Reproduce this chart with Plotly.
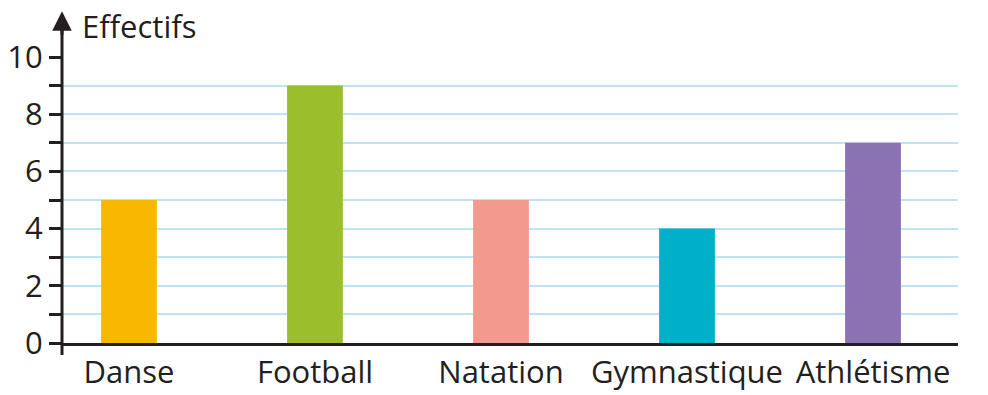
import plotly.graph_objects as go

categories = ["Danse", "Football", "Natation", "Gymnastique", "Athlétisme"]
values = [5, 9, 5, 4, 7]
colors = ["#F9B800", "#9BBE2C", "#F4998D", "#00AFC8", "#8A72B3"]
y_ticks = [0, 2, 4, 6, 8, 10]
y_title = "Effectifs"

FONT = "Open Sans"
INK = "#231F20"
FS = 31

fig = go.Figure()
fig.add_trace(go.Bar(
    x=list(range(len(categories))), y=values,
    marker=dict(color=colors, line=dict(width=0)),
    width=0.30, hoverinfo="skip",
))

fig.update_layout(
    width=988, height=395,
    margin=dict(l=62, r=30, t=57, b=52),
    paper_bgcolor="white", plot_bgcolor="white",
    showlegend=False,
    font=dict(family=FONT, size=FS, color=INK),
    xaxis=dict(
        range=[-0.36, 4.457], automargin=False,
        tickmode="array", tickvals=list(range(len(categories))), ticktext=categories,
        showgrid=False, zeroline=False,
        showline=True, linecolor=INK, linewidth=3,
        ticks="", tickfont=dict(size=FS, color=INK),
    ),
    yaxis=dict(
        range=[0, 10], automargin=False,
        tickmode="array", tickvals=y_ticks,
        ticks="outside", ticklen=12, tickwidth=3, tickcolor=INK,
        showgrid=True, gridcolor="#BDE3F5", gridwidth=2,
        minor=dict(dtick=1, ticks="outside", ticklen=12, tickwidth=3, tickcolor=INK,
                   showgrid=True, gridcolor="#BDE3F5", gridwidth=2),
        zeroline=False, showline=False,
        tickfont=dict(size=FS, color=INK),
    ),
)

# y axis line with arrow, extending below baseline and above top
fig.add_shape(type="line", xref="paper", yref="paper", x0=0, x1=0,
              y0=-0.042, y1=1.1, line=dict(color=INK, width=3), layer="above")
fig.add_annotation(xref="paper", yref="paper", x=0, y=1.16, ax=0, ay=25,
                   axref="pixel", ayref="pixel", showarrow=True,
                   arrowhead=2, arrowsize=1.3, arrowwidth=3, arrowcolor=INK, text="")
fig.add_annotation(xref="paper", yref="paper", x=0.02, y=1.11, xanchor="left", yanchor="middle",
                   text=y_title, showarrow=False, font=dict(size=FS, color=INK, family=FONT))

fig.write_html("out.html")
